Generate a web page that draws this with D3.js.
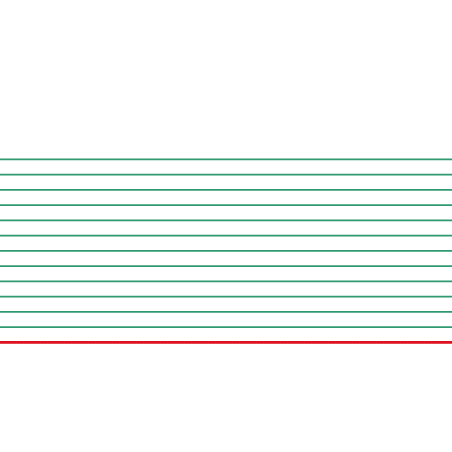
<!DOCTYPE html>
<html>
<head>
<meta charset="utf-8">
<script src="https://cdn.jsdelivr.net/npm/d3@7"></script>
<style>
  html, body { margin: 0; padding: 0; background: #fff; }
  svg { display: block; }
</style>
</head>
<body>
<div id="chart"></div>
<script>
  // данные: уровни горизонтальных линий
  const xValues = [0, 1];
  const levels = [1, 2, 3, 4, 5, 6, 7, 8, 9, 10, 11, 12];
  const baseline = [0];

  const width = 452, height = 452;

  const x = d3.scaleLinear().domain([0, 1]).range([0, width]);
  const y = d3.scaleLinear().domain([0, 12]).range([342.3, 159.3]);

  const svg = d3.select('#chart').append('svg')
    .attr('width', width)
    .attr('height', height);

  const line = d3.line()
    .x(d => x(d[0]))
    .y(d => y(d[1]));

  // зелёные линии
  svg.append('g').selectAll('path')
    .data(levels)
    .join('path')
    .attr('d', v => line(xValues.map(t => [t, v])))
    .attr('fill', 'none')
    .attr('stroke', '#2f9a70')
    .attr('stroke-width', 1.7);

  // красная базовая линия
  const base = svg.append('g');
  base.selectAll('path')
    .data(baseline)
    .join('path')
    .attr('d', v => line(xValues.map(t => [t, v])))
    .attr('fill', 'none')
    .attr('stroke', '#e0101e')
    .attr('stroke-width', 2.8);

  base.selectAll('path.dots')
    .data(baseline)
    .join('path')
    .attr('class', 'dots')
    .attr('d', v => line(xValues.map(t => [t, v])))
    .attr('transform', 'translate(0,0.8)')
    .attr('fill', 'none')
    .attr('stroke', '#b0101a')
    .attr('stroke-opacity', 0.5)
    .attr('stroke-width', 0.6)
    .attr('stroke-dasharray', '1,2');
</script>
</body>
</html>
